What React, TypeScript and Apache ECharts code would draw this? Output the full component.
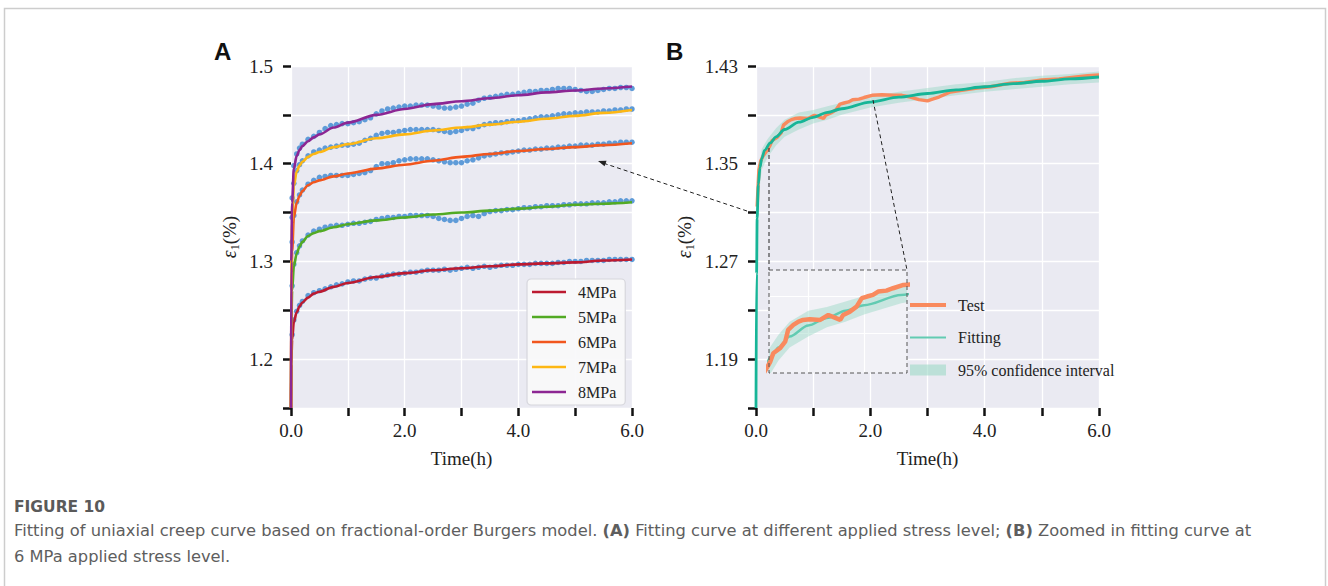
import React, { useEffect, useRef } from 'react';
import * as echarts from 'echarts';

// ---------- Panel A data ----------
const tFitA = [0, 0.005, 0.02, 0.05, 0.1, 0.15, 0.2, 0.3, 0.4, 0.5, 0.75, 1.0, 1.5, 2.0, 2.5, 3.0, 3.5, 4.0, 4.5, 5.0, 5.5, 6.0];
const fit4 = [1.15, 1.195, 1.22, 1.238, 1.248, 1.254, 1.258, 1.263, 1.267, 1.269, 1.274, 1.278, 1.284, 1.288, 1.291, 1.293, 1.295, 1.297, 1.298, 1.299, 1.301, 1.302];
const fit5 = [1.15, 1.235, 1.27, 1.295, 1.308, 1.315, 1.32, 1.326, 1.329, 1.331, 1.335, 1.338, 1.342, 1.345, 1.348, 1.35, 1.352, 1.354, 1.356, 1.358, 1.359, 1.3605];
const fit6 = [1.15, 1.27, 1.31, 1.345, 1.36, 1.367, 1.372, 1.378, 1.381, 1.383, 1.387, 1.39, 1.395, 1.399, 1.403, 1.407, 1.41, 1.413, 1.415, 1.417, 1.419, 1.421];
const fit7 = [1.15, 1.29, 1.34, 1.377, 1.392, 1.398, 1.402, 1.407, 1.41, 1.412, 1.417, 1.42, 1.426, 1.43, 1.434, 1.437, 1.44, 1.443, 1.446, 1.449, 1.452, 1.455];
const fit8 = [1.15, 1.30, 1.36, 1.395, 1.408, 1.414, 1.418, 1.423, 1.427, 1.43, 1.437, 1.442, 1.45, 1.456, 1.461, 1.464, 1.467, 1.47, 1.473, 1.475, 1.477, 1.479];

const tTestA = [0.02, 0.05, 0.1, 0.15,
  0.2, 0.3, 0.4, 0.5, 0.6, 0.7, 0.8, 0.9, 1.0,
  1.1, 1.2, 1.3, 1.4, 1.5, 1.6, 1.7, 1.8, 1.9, 2.0,
  2.1, 2.2, 2.3, 2.4, 2.5, 2.6, 2.7, 2.8, 2.9, 3.0,
  3.1, 3.2, 3.3, 3.4, 3.5, 3.6, 3.7, 3.8, 3.9, 4.0,
  4.1, 4.2, 4.3, 4.4, 4.5, 4.6, 4.7, 4.8, 4.9, 5.0,
  5.1, 5.2, 5.3, 5.4, 5.5, 5.6, 5.7, 5.8, 5.9, 6.0];
const test4 = [1.225, 1.240, 1.249, 1.255,
  1.259, 1.265, 1.268, 1.270, 1.272, 1.274, 1.276, 1.277, 1.279,
  1.280, 1.280, 1.282, 1.283, 1.283, 1.285, 1.286, 1.287, 1.287, 1.288,
  1.289, 1.289, 1.290, 1.291, 1.291, 1.291, 1.292, 1.291, 1.292, 1.293,
  1.294, 1.293, 1.294, 1.295, 1.294, 1.295, 1.296, 1.296, 1.296, 1.297,
  1.297, 1.297, 1.298, 1.298, 1.298, 1.298, 1.299, 1.299, 1.300, 1.300,
  1.300, 1.301, 1.301, 1.301, 1.301, 1.302, 1.302, 1.302, 1.302, 1.302];
const test5 = [1.275, 1.297, 1.309, 1.316,
  1.321, 1.327, 1.331, 1.333, 1.335, 1.336, 1.337, 1.337, 1.338,
  1.339, 1.339, 1.340, 1.341, 1.343, 1.344, 1.345, 1.345, 1.346, 1.346,
  1.347, 1.347, 1.347, 1.347, 1.346, 1.344, 1.343, 1.342, 1.342, 1.344,
  1.346, 1.347, 1.346, 1.349, 1.351, 1.352, 1.352, 1.353, 1.353, 1.354,
  1.355, 1.355, 1.356, 1.356, 1.357, 1.357, 1.357, 1.358, 1.358, 1.359,
  1.359, 1.359, 1.360, 1.360, 1.360, 1.361, 1.361, 1.362, 1.362, 1.362];
const test6 = [1.320, 1.347, 1.361, 1.368,
  1.373, 1.379, 1.383, 1.386, 1.387, 1.388, 1.388, 1.388, 1.388,
  1.389, 1.390, 1.391, 1.393, 1.397, 1.400, 1.400, 1.401, 1.403, 1.404,
  1.405, 1.405, 1.405, 1.405, 1.404, 1.403, 1.402, 1.401, 1.401, 1.401,
  1.403, 1.404, 1.406, 1.408, 1.409, 1.410, 1.411, 1.411, 1.412, 1.413,
  1.414, 1.414, 1.415, 1.415, 1.416, 1.416, 1.417, 1.417, 1.418, 1.418,
  1.419, 1.419, 1.419, 1.420, 1.420, 1.421, 1.421, 1.422, 1.422, 1.422];
const test7 = [1.345, 1.380, 1.393, 1.399,
  1.403, 1.408, 1.412, 1.414, 1.416, 1.417, 1.418, 1.419, 1.419,
  1.420, 1.421, 1.424, 1.426, 1.429, 1.431, 1.432, 1.432, 1.433, 1.434,
  1.435, 1.435, 1.435, 1.435, 1.435, 1.434, 1.433, 1.432, 1.433, 1.434,
  1.436, 1.436, 1.438, 1.440, 1.441, 1.442, 1.442, 1.443, 1.444, 1.444,
  1.445, 1.446, 1.447, 1.448, 1.448, 1.449, 1.450, 1.451, 1.451, 1.452,
  1.452, 1.453, 1.453, 1.453, 1.454, 1.454, 1.455, 1.455, 1.456, 1.456];
const test8 = [1.365, 1.398, 1.410, 1.416,
  1.420, 1.425, 1.428, 1.432, 1.436, 1.439, 1.440, 1.441, 1.441,
  1.442, 1.443, 1.445, 1.447, 1.451, 1.454, 1.456, 1.457, 1.458, 1.459,
  1.459, 1.460, 1.460, 1.460, 1.459, 1.458, 1.457, 1.457, 1.458, 1.459,
  1.461, 1.462, 1.465, 1.467, 1.468, 1.469, 1.470, 1.471, 1.471, 1.472,
  1.473, 1.474, 1.474, 1.475, 1.475, 1.476, 1.477, 1.477, 1.477, 1.476,
  1.475, 1.474, 1.474, 1.475, 1.476, 1.477, 1.477, 1.478, 1.478, 1.477];

const stressNames = ['4MPa', '5MPa', '6MPa', '7MPa', '8MPa'];
const stressColors = ['#BC1A30', '#52AA24', '#F1561E', '#FDB714', '#8C2693'];
const fitsA = [fit4, fit5, fit6, fit7, fit8];
const testsA = [test4, test5, test6, test7, test8];

// ---------- Panel B data (6 MPa) ----------
const tFitB = [0, 0.01, 0.02, 0.04, 0.07, 0.1, 0.15, 0.25, 0.35, 0.5, 0.75, 1.0, 1.25, 1.5, 2.0, 2.5, 3.0, 3.5, 4.0, 4.5, 5.0, 5.5, 6.0];
const fitB = [1.15, 1.26, 1.305, 1.333, 1.347, 1.354, 1.361, 1.367, 1.372, 1.378, 1.384, 1.388, 1.392, 1.395, 1.4005, 1.4045, 1.4075, 1.4105, 1.413, 1.4155, 1.4175, 1.4195, 1.421];
const tTestB = [0.02, 0.05, 0.08, 0.12, 0.18, 0.24, 0.28, 0.37, 0.44, 0.48, 0.55, 0.62, 0.68, 0.77, 0.91, 1.02, 1.09, 1.18, 1.22, 1.31, 1.40, 1.47, 1.54, 1.62, 1.69, 1.80, 1.89, 2.03, 2.2, 2.4, 2.55, 2.7, 2.85, 3.0, 3.1, 3.2, 3.4, 3.6, 3.87, 4.1, 4.45, 4.7, 5.0, 5.3, 5.6, 5.8, 6.0];
const testB = [1.315, 1.345, 1.352, 1.356, 1.360, 1.3644, 1.3689, 1.3716, 1.3752, 1.3816, 1.3843, 1.3861, 1.387, 1.3874, 1.387, 1.3897, 1.3885, 1.387, 1.3897, 1.3915, 1.3942, 1.3988, 1.3997, 1.4006, 1.4024, 1.4029, 1.4042, 1.406, 1.4065, 1.406, 1.406, 1.4046, 1.4025, 1.4015, 1.403, 1.4046, 1.4087, 1.410, 1.412, 1.413, 1.416, 1.4165, 1.4185, 1.4195, 1.421, 1.422, 1.4226];
const tCiB = [0, 0.02, 0.05, 0.1, 0.2, 0.35, 0.5, 0.75, 1.0, 1.25, 1.5, 2.0, 2.5, 3.0, 3.5, 4.0, 4.5, 5.0, 5.5, 6.0];
const ciLowB = [1.15, 1.29, 1.325, 1.345, 1.355, 1.365, 1.372, 1.378, 1.383, 1.386, 1.390, 1.396, 1.400, 1.403, 1.406, 1.409, 1.411, 1.413, 1.415, 1.4165];
const ciHighB = [1.15, 1.32, 1.345, 1.362, 1.37, 1.379, 1.386, 1.392, 1.394, 1.397, 1.400, 1.405, 1.409, 1.412, 1.415, 1.417, 1.420, 1.422, 1.4235, 1.4255];

const xTicksLabelled = (v: number) => (Math.round(v) % 2 === 0 ? v.toFixed(1) : '');

const serif = "'Liberation Serif', 'Times New Roman', serif";
const capFont = "'DejaVu Sans', 'Open Sans', sans-serif";

const pairs = (xs: number[], ys: number[]) => xs.map((x, i) => [x, ys[i]]);

const thinIcon = 'path://M0,0h0.01v0.01h-0.01z M0,5.75h34v2.5h-34z M40.99,13.99h0.01v0.01h-0.01z';
const testIcon = 'path://M0,0h0.01v0.01h-0.01z M0,5h36v4h-36z M42.99,13.99h0.01v0.01h-0.01z';
const fitIcon = 'path://M0,0h0.01v0.01h-0.01z M0,5.9h36v2.2h-36z M42.99,13.99h0.01v0.01h-0.01z';
const ciIcon = 'path://M0,0h0.01v0.01h-0.01z M0,1.5h36v11h-36z M42.99,13.99h0.01v0.01h-0.01z';

const tickStyle = { show: true, length: 8, lineStyle: { color: '#111', width: 2.5 } };
const splitStyle = { show: true, lineStyle: { color: '#ffffff', width: 1.3 } };
const labelBase = { color: '#222', fontFamily: serif, fontSize: 19, showMinLabel: true, showMaxLabel: true };
const epsName = '{e|ε}{s|1}{p|(%)}';
const epsStyle = {
  fontFamily: serif, fontSize: 19, color: '#222',
  rich: {
    e: { fontFamily: serif, fontStyle: 'italic', fontSize: 20, color: '#222', lineHeight: 24 },
    s: { fontFamily: serif, fontSize: 12, color: '#222', verticalAlign: 'bottom' },
    p: { fontFamily: serif, fontSize: 19, color: '#222', lineHeight: 24 },
  },
};

function xAxisMain(gridIndex: number) {
  return {
    gridIndex, type: 'value', min: 0, max: 6, interval: 1,
    axisLine: { show: false }, axisTick: tickStyle, splitLine: splitStyle,
    axisLabel: { ...labelBase, margin: 13, formatter: xTicksLabelled },
    name: 'Time(h)', nameLocation: 'middle', nameGap: 41,
    nameTextStyle: { fontFamily: serif, fontSize: 19, color: '#222' },
  };
}

export default function App() {
  const ref = useRef<HTMLDivElement>(null);
  useEffect(() => {
    const chart = echarts.init(ref.current!, null, { renderer: 'svg' });

    const series: any[] = [];
    testsA.forEach((d, i) => {
      series.push({
        type: 'line', name: 'test' + stressNames[i], xAxisIndex: 0, yAxisIndex: 0,
        data: pairs(tTestA, d), symbol: 'circle', symbolSize: 5.5, showSymbol: true,
        itemStyle: { color: '#5E9BD8' }, lineStyle: { color: '#A9C9EE', width: 1.4 },
        z: 2, silent: true, clip: true,
      });
    });
    fitsA.forEach((d, i) => {
      series.push({
        type: 'line', name: stressNames[i], xAxisIndex: 0, yAxisIndex: 0,
        data: pairs(tFitA, d), symbol: 'none', smooth: 0.3, smoothMonotone: 'x',
        lineStyle: { color: stressColors[i], width: 2.6 }, itemStyle: { color: stressColors[i] },
        z: 3, silent: true, clip: true,
      });
    });

    const bandRender = (params: any, api: any) => {
      const pts: number[][] = [];
      for (let i = 0; i < tCiB.length; i++) pts.push(api.coord([tCiB[i], ciHighB[i]]));
      for (let i = tCiB.length - 1; i >= 0; i--) pts.push(api.coord([tCiB[i], ciLowB[i]]));
      return { type: 'polygon', shape: { points: pts }, style: { fill: 'rgba(150,215,195,0.45)' } };
    };

    // Panel B main
    series.push({
      type: 'custom', name: 'ciMain', xAxisIndex: 1, yAxisIndex: 1, data: [[1, 1.3]],
      renderItem: bandRender, itemStyle: { color: 'rgba(150,215,195,0.45)' }, z: 2, silent: true, clip: true,
    });
    series.push({
      type: 'line', name: 'testMain', xAxisIndex: 1, yAxisIndex: 1, data: pairs(tTestB, testB),
      symbol: 'none', lineStyle: { color: '#F98A5E', width: 3.4 }, itemStyle: { color: '#F98A5E' }, z: 3, silent: true, clip: true,
    });
    series.push({
      type: 'line', name: 'fitMain', xAxisIndex: 1, yAxisIndex: 1, data: pairs(tFitB, fitB),
      symbol: 'none', smooth: 0.3, smoothMonotone: 'x',
      lineStyle: { color: '#16B597', width: 2.8 }, itemStyle: { color: '#16B597' }, z: 4, silent: true, clip: true,
    });

    // Inset
    series.push({
      type: 'line', name: 'insetGrid', xAxisIndex: 2, yAxisIndex: 2, data: [], z: 4, silent: true,
      markLine: {
        silent: true, symbol: 'none', label: { show: false }, animation: false,
        lineStyle: { color: '#ffffff', width: 1.2, type: 'solid' },
        data: [{ xAxis: 0.75 }, { xAxis: 1.5 }, { yAxis: 1.377 }, { yAxis: 1.403 }],
      },
    });
    series.push({
      type: 'custom', name: '95% confidence interval', xAxisIndex: 2, yAxisIndex: 2, data: [[1, 1.39]],
      renderItem: bandRender, itemStyle: { color: 'rgba(150,215,195,0.55)' }, z: 5, silent: true, clip: true,
    });
    series.push({
      type: 'line', name: 'Fitting', xAxisIndex: 2, yAxisIndex: 2, data: pairs(tFitB, fitB),
      symbol: 'none', smooth: 0.3, smoothMonotone: 'x',
      lineStyle: { color: '#62CBB2', width: 2.4 }, itemStyle: { color: '#62CBB2' }, z: 6, silent: true, clip: true,
    });
    series.push({
      type: 'line', name: 'Test', xAxisIndex: 2, yAxisIndex: 2, data: pairs(tTestB, testB),
      symbol: 'none', lineStyle: { color: '#F98A5E', width: 4.5 }, itemStyle: { color: '#F98A5E' }, z: 7, silent: true, clip: true,
    });

    const option: any = {
      animation: false,
      backgroundColor: '#ffffff',
      grid: [
        { left: 291, top: 66, width: 341, height: 342, show: true, backgroundColor: '#EAEAF2', borderWidth: 0 },
        { left: 756, top: 66, width: 343, height: 342, show: true, backgroundColor: '#EAEAF2', borderWidth: 0 },
        { left: 769, top: 270, width: 138, height: 103, show: true, backgroundColor: '#F1F1F6', borderWidth: 0, z: 3 },
      ],
      xAxis: [
        xAxisMain(0),
        xAxisMain(1),
        { gridIndex: 2, type: 'value', min: 0.2225, max: 2.0775, show: false },
      ],
      yAxis: [
        {
          gridIndex: 0, type: 'value', min: 1.15, max: 1.5, interval: 0.05,
          axisLine: { show: false }, axisTick: tickStyle, splitLine: splitStyle,
          axisLabel: {
            ...labelBase, margin: 18,
            formatter: (v: number) => (Math.round((v - 1.15) / 0.05) % 2 === 1 ? v.toFixed(1) : ''),
          },
          name: epsName, nameLocation: 'middle', nameGap: 50, nameTextStyle: epsStyle,
        },
        {
          gridIndex: 1, type: 'value', min: 1.15, max: 1.43, interval: 0.04,
          axisLine: { show: false }, axisTick: tickStyle, splitLine: splitStyle,
          axisLabel: {
            ...labelBase, margin: 18,
            formatter: (v: number) => (Math.round((v - 1.15) / 0.04) % 2 === 1 ? v.toFixed(2) : ''),
          },
          name: epsName, nameLocation: 'middle', nameGap: 60, nameTextStyle: epsStyle,
        },
        { gridIndex: 2, type: 'value', min: 1.3582, max: 1.4141, show: false },
      ],
      legend: [
        {
          data: stressNames.map((n) => ({ name: n, icon: thinIcon })),
          left: 527, top: 279, orient: 'vertical', itemWidth: 41, itemHeight: 14, itemGap: 9,
          padding: [5, 9, 5, 5], backgroundColor: 'rgba(248,248,250,0.92)', borderColor: '#d6d6dc',
          borderWidth: 1.2, borderRadius: 4, selectedMode: false,
          itemStyle: { borderWidth: 0 },
          textStyle: { fontFamily: serif, fontSize: 16, color: '#222' },
        },
        {
          data: [
            { name: 'Test', icon: testIcon },
            { name: 'Fitting', icon: fitIcon },
            { name: '95% confidence interval', icon: ciIcon },
          ],
          left: 910, top: 297, orient: 'vertical', itemWidth: 43, itemHeight: 14, itemGap: 16.5,
          padding: 0, selectedMode: false, itemStyle: { borderWidth: 0 },
          textStyle: { fontFamily: serif, fontSize: 16, color: '#222' },
        },
      ],
      graphic: [
        { type: 'rect', silent: true, z: -10, shape: { x: 4.5, y: 8.5, width: 1321, height: 640 }, style: { fill: 'none', stroke: '#cdcdcd', lineWidth: 1.5 } },
        { type: 'text', silent: true, x: 214, y: 51, style: { text: 'A', fill: '#111', fontFamily: "'Liberation Sans', Arial, sans-serif", fontWeight: 'bold', fontSize: 24, verticalAlign: 'middle' } },
        { type: 'text', silent: true, x: 666, y: 51, style: { text: 'B', fill: '#111', fontFamily: "'Liberation Sans', Arial, sans-serif", fontWeight: 'bold', fontSize: 24, verticalAlign: 'middle' } },
        // arrow from panel B to panel A
        { type: 'line', silent: true, z: 20, shape: { x1: 747, y1: 211, x2: 603, y2: 163 }, style: { stroke: '#222', lineWidth: 1, lineDash: [4, 3] } },
        { type: 'polygon', silent: true, z: 20, shape: { points: [[598, 161], [606.5, 160.7], [604.6, 166.3]] }, style: { fill: '#222' } },
        // zoom connectors
        { type: 'line', silent: true, z: 20, shape: { x1: 769, y1: 148, x2: 769, y2: 270 }, style: { stroke: '#222', lineWidth: 1, lineDash: [4, 3] } },
        { type: 'line', silent: true, z: 20, shape: { x1: 873, y1: 100, x2: 907, y2: 270 }, style: { stroke: '#222', lineWidth: 1, lineDash: [4, 3] } },
        { type: 'rect', silent: true, z: 20, shape: { x: 769, y: 270, width: 138, height: 103 }, style: { fill: 'none', stroke: '#555', lineWidth: 1, lineDash: [4, 3] } },
        // caption
        { type: 'text', silent: true, x: 14, y: 507, style: { text: 'FIGURE 10', fill: '#5a5a5a', fontFamily: capFont, fontWeight: 'bold', fontSize: 15.5, verticalAlign: 'middle' } },
        {
          type: 'text', silent: true, x: 14, y: 530,
          style: {
            text: 'Fitting of uniaxial creep curve based on fractional-order Burgers model. {b|(A)} Fitting curve at different applied stress level; {b|(B)} Zoomed in fitting curve at',
            fill: '#5e5e5e', fontFamily: capFont, fontSize: 16.3, verticalAlign: 'middle',
            rich: { b: { fontFamily: capFont, fontSize: 16.3, fontWeight: 'bold', fill: '#5e5e5e' } },
          },
        },
        { type: 'text', silent: true, x: 14, y: 556, style: { text: '6 MPa applied stress level.', fill: '#5e5e5e', fontFamily: capFont, fontSize: 16.3, verticalAlign: 'middle' } },
      ],
      series,
    };

    chart.setOption(option);
    return () => chart.dispose();
  }, []);

  return (
    <div
      ref={ref}
      style={{ position: 'fixed', left: 0, top: 0, width: 1328, height: 586, background: '#fff' }}
    />
  );
}
